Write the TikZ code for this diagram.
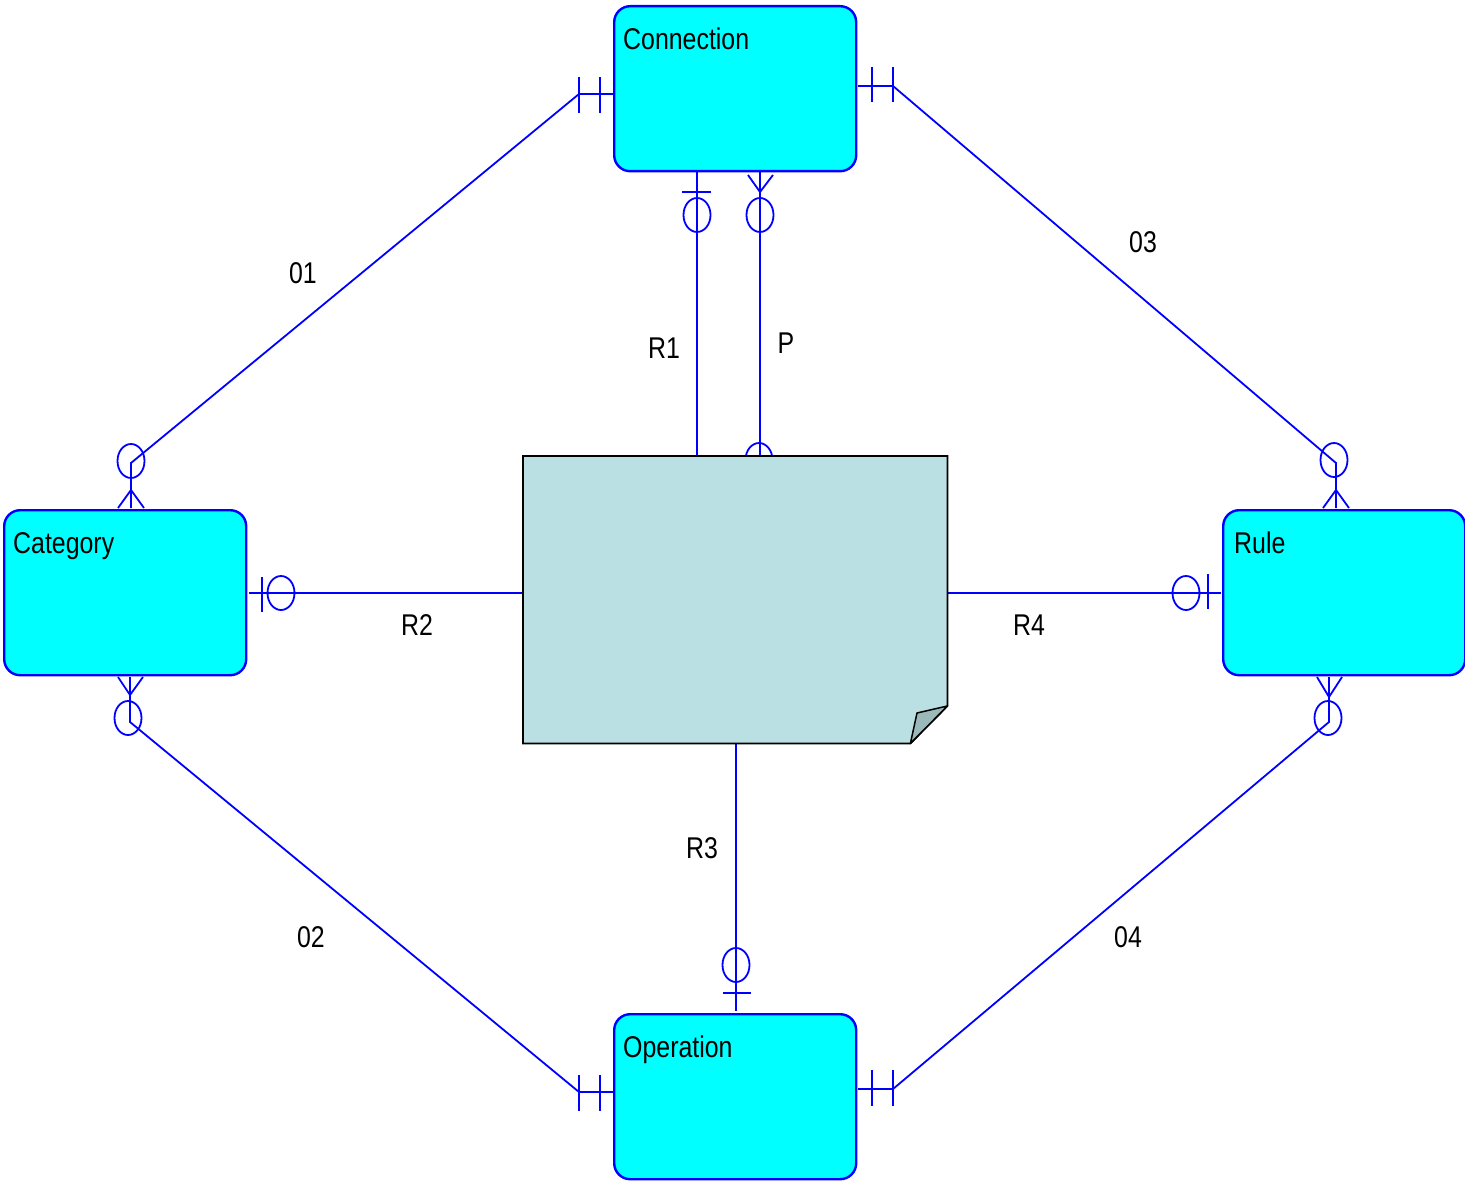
\documentclass[tikz,border=0pt]{standalone}
\usepackage{fontspec}
\setmainfont{Liberation Sans}[FakeStretch=0.83]
\usetikzlibrary{calc}
\definecolor{erblue}{RGB}{0,0,255}
\definecolor{ercyan}{RGB}{0,255,255}
\definecolor{notefill}{RGB}{187,224,227}
\definecolor{foldfill}{RGB}{155,184,187}
\begin{document}
\begin{tikzpicture}[x=1pt,y=-1pt,
  rel/.style={draw=erblue, line width=1.8pt},
  entity/.style={draw=erblue, fill=ercyan, line width=2.4pt, rounded corners=16pt,
    minimum width=242pt, minimum height=165pt, inner sep=0pt, anchor=north west},
  title/.style={anchor=base west, inner sep=0pt, font=\fontsize{30}{36}\selectfont},
  lbl/.style={inner sep=0pt, font=\fontsize{30}{36}\selectfont},
  ring/.style={x radius=13.5pt, y radius=17pt}]
\useasboundingbox (0,0) rectangle (1465,1182);

% ---------- connector end points ----------
\coordinate (c1a) at (613,94);   \coordinate (c1b) at (579,94);
\coordinate (c1c) at (131,463);  \coordinate (c1d) at (131,508);
\coordinate (c3a) at (858,86);   \coordinate (c3b) at (893,86);
\coordinate (c3c) at (1336,463); \coordinate (c3d) at (1336,508);
\coordinate (c2a) at (130,677);  \coordinate (c2b) at (130,722);
\coordinate (c2c) at (579,1092); \coordinate (c2d) at (613,1092);
\coordinate (c4a) at (858,1089); \coordinate (c4b) at (893,1089);
\coordinate (c4c) at (1329,722); \coordinate (c4d) at (1329,677);
\coordinate (r1a) at (697,172);  \coordinate (r1b) at (697,456);
\coordinate (pa) at (760,172);   \coordinate (pb) at (760,456);
\coordinate (r2a) at (249,593);  \coordinate (r2b) at (523,593);
\coordinate (r4a) at (947,593);  \coordinate (r4b) at (1221,593);
\coordinate (r3a) at (736,743);  \coordinate (r3b) at (736,1011);

% ---------- 01 ----------
\draw[rel] (c1a) -- (c1b) -- (c1c) -- (c1d);
\draw[rel] (579,77) -- (579,113) (600,77) -- (600,113);
\draw[rel] (131,461) ellipse [ring];
\draw[rel] (118,508) -- (131,490) -- (144,508);
% ---------- 03 ----------
\draw[rel] (c3a) -- (c3b) -- (c3c) -- (c3d);
\draw[rel] (872,67) -- (872,102) (893,67) -- (893,102);
\draw[rel] (1334,460) ellipse [ring];
\draw[rel] (1323,508) -- (1336,490) -- (1349,508);
% ---------- 02 ----------
\draw[rel] (c2a) -- (c2b) -- (c2c) -- (c2d);
\draw[rel] (579,1075) -- (579,1111) (600,1075) -- (600,1111);
\draw[rel] (128,718) ellipse [ring];
\draw[rel] (118,677) -- (130,695) -- (143,677);
% ---------- 04 ----------
\draw[rel] (c4a) -- (c4b) -- (c4c) -- (c4d);
\draw[rel] (872,1070) -- (872,1106) (893,1070) -- (893,1106);
\draw[rel] (1328,718) ellipse [ring];
\draw[rel] (1317,677) -- (1329,697) -- (1342,677);
% ---------- R1 ----------
\draw[rel] (r1a) -- (r1b);
\draw[rel] (682,192) -- (711,192);
\draw[rel] (697,215) ellipse [ring];
% ---------- P ----------
\draw[rel] (pa) -- (pb);
\draw[rel] (748,175) -- (760,192) -- (773,175);
\draw[rel] (760,215) ellipse [ring];
\draw[rel] (759,460) ellipse [ring];
% ---------- R2 ----------
\draw[rel] (r2a) -- (r2b);
\draw[rel] (262,577) -- (262,612);
\draw[rel] (281,593) ellipse [ring];
% ---------- R4 ----------
\draw[rel] (r4a) -- (r4b);
\draw[rel] (1208,574) -- (1208,609);
\draw[rel] (1186,593) ellipse [ring];
% ---------- R3 ----------
\draw[rel] (r3a) -- (r3b);
\draw[rel] (723,993) -- (751,993);
\draw[rel] (736,965) ellipse [ring];

% ---------- note ----------
\node[minimum width=424pt, minimum height=287pt, inner sep=0pt, anchor=north west] (note) at (523,456) {};
\draw[black, line width=1.8pt, fill=notefill]
  (note.north west) -- (note.north east) -- ($(note.north east)+(0,250)$)
  -- ($(note.south east)+(-37,0)$) -- (note.south west) -- cycle;
\draw[black, line width=1.5pt, fill=foldfill, line join=round]
  ($(note.south east)+(-37,0)$) -- (917,713) -- ($(note.north east)+(0,250)$) -- cycle;

% ---------- entities ----------
\node[entity] (conn) at (613,5) {};
\node[entity] (cat) at (3,509) {};
\node[entity] (rule) at (1222,509) {};
\node[entity] (oper) at (613,1013) {};
\node[title] (connt) at (623,50) {Connection};
\node[title] (catt) at (13,553) {Category};
\node[title] (rulet) at (1234,553) {Rule};
\node[title] (opert) at (623,1057) {Operation};

% ---------- labels ----------
\node[lbl] (l01) at (303,273) {01};
\node[lbl] (l03) at (1143,242) {03};
\node[lbl] (lr1) at (664,348) {R1};
\node[lbl] (lp) at (786,343) {P};
\node[lbl] (lr2) at (417,625) {R2};
\node[lbl] (lr4) at (1029,625) {R4};
\node[lbl] (lr3) at (702,848) {R3};
\node[lbl] (l02) at (311,937) {02};
\node[lbl] (l04) at (1128,937) {04};
\end{tikzpicture}
\end{document}
